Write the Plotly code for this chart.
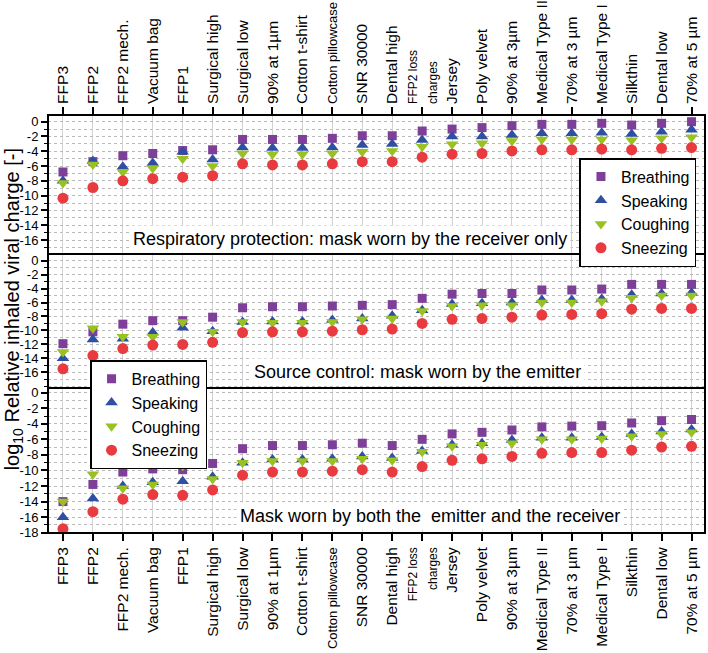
import plotly.graph_objects as go

# ---------------- data ----------------
categories = ["FFP3", "FFP2", "FFP2 mech.", "Vacuum bag", "FFP1", "Surgical high",
              "Surgical low", "90% at 1µm", "Cotton t-shirt", "Cotton pillowcase",
              "SNR 30000", "Dental high", "FFP2 loss charges", "Jersey", "Poly velvet",
              "90% at 3µm", "Medical Type II", "70% at 3 µm", "Medical Type I",
              "Silkthin", "Dental low", "70% at 5 µm"]

tick_labels = ["FFP3", "FFP2", "FFP2 mech.", "Vacuum bag", "FFP1", "Surgical high",
               "Surgical low", "90% at 1µm", "Cotton t-shirt",
               "<span style='font-size:13px'>Cotton pillowcase</span>",
               "SNR 30000", "Dental high",
               "<span style='font-size:12px'>FFP2 loss<br>charges</span>",
               "Jersey", "Poly velvet", "90% at 3µm", "Medical Type II", "70% at 3 µm",
               "Medical Type I", "Silkthin", "Dental low", "70% at 5 µm"]

series_names = ["Breathing", "Speaking", "Coughing", "Sneezing"]

# Panel 1: mask worn by the receiver only
receiver_breathing = [-6.8, -5.4, -4.6, -4.3, -3.9, -3.8, -2.4, -2.4, -2.4, -2.25, -1.9,
                      -1.9, -1.26, -1.0, -0.8, -0.54, -0.36, -0.36, -0.22, -0.45, -0.22, 0.0]
receiver_speaking = [-8.0, -5.3, -6.1, -5.6, -4.05, -5.1, -3.5, -3.55, -3.55, -3.5, -3.15,
                     -3.0, -2.47, -2.0, -2.0, -1.8, -1.57, -1.57, -1.5, -1.66, -1.35, -1.1]
receiver_coughing = [-8.3, -5.8, -6.8, -6.3, -5.0, -6.0, -4.3, -4.4, -4.4, -4.3, -4.05,
                     -3.96, -3.4, -3.05, -2.9, -2.6, -2.4, -2.4, -2.4, -2.5, -2.25, -2.1]
receiver_sneezing = [-10.35, -8.9, -8.0, -7.7, -7.5, -7.3, -5.7, -5.85, -5.85, -5.7, -5.4,
                     -5.4, -4.8, -4.4, -4.3, -3.96, -3.8, -3.8, -3.7, -3.8, -3.6, -3.5]

# Panel 2: source control, mask worn by the emitter
emitter_breathing = [-11.9, -10.2, -9.1, -8.6, -8.6, -8.1, -6.75, -6.6, -6.6, -6.5, -6.4,
                     -6.3, -5.4, -4.8, -4.7, -4.7, -4.2, -4.2, -4.07, -3.4, -3.4, -3.4]
emitter_speaking = [-14.0, -11.3, -11.2, -10.3, -9.6, -10.1, -8.8, -8.7, -8.7, -8.5, -8.3,
                    -7.9, -7.1, -6.2, -6.1, -6.0, -5.65, -5.65, -5.5, -4.9, -4.7, -4.6]
emitter_coughing = [-13.1, -9.7, -10.9, -10.9, -8.8, -10.2, -8.8, -8.9, -8.9, -8.8, -8.4,
                    -8.3, -7.2, -6.5, -6.4, -6.4, -6.0, -6.0, -5.8, -5.3, -5.0, -5.0]
emitter_sneezing = [-15.5, -13.6, -12.6, -12.1, -12.0, -11.7, -10.3, -10.2, -10.2, -10.1, -9.9,
                    -9.8, -9.0, -8.4, -8.3, -8.1, -7.8, -7.7, -7.6, -6.95, -6.85, -6.85]

# Panel 3: mask worn by both
both_breathing = [-14.0, -11.8, -10.2, -9.8, -9.9, -9.1, -7.2, -6.8, -6.8, -6.7, -6.5,
                  -6.8, -6.0, -5.3, -5.1, -4.8, -4.4, -4.3, -4.25, -3.9, -3.6, -3.45]
both_speaking = [-16.0, -13.6, -12.0, -11.5, -11.4, -10.8, -9.0, -8.6, -8.6, -8.5, -8.2,
                 -8.4, -7.5, -6.7, -6.5, -6.1, -5.8, -5.8, -5.7, -5.3, -5.0, -4.75]
both_coughing = [-14.0, -10.5, -12.3, -11.8, -9.4, -11.1, -9.0, -8.8, -8.8, -8.8, -8.5,
                 -8.7, -7.6, -6.9, -6.7, -6.5, -6.0, -6.0, -5.9, -5.6, -5.3, -5.1]
both_sneezing = [-17.5, -15.3, -13.7, -13.1, -13.2, -12.5, -10.6, -10.2, -10.2, -10.1, -9.9,
                 -10.2, -9.5, -8.7, -8.5, -8.2, -7.8, -7.7, -7.7, -7.4, -7.0, -6.9]

y_ticks_16 = [0, -2, -4, -6, -8, -10, -12, -14, -16]
y_ticks_18 = [0, -2, -4, -6, -8, -10, -12, -14, -16, -18]

panel_titles = ["Respiratory protection: mask worn by the receiver only",
                "Source control: mask worn by the emitter",
                "Mask worn by both the  emitter and the receiver"]

# ---------------- style ----------------
FONT = "Arial, Liberation Sans, sans-serif"
colors = ["#7E3F98", "#2E4FA2", "#98C221", "#E83A3F"]
symbols = ["square", "triangle-up", "triangle-down", "circle"]
sizes = [9, 11, 11, 11]

panels = [
    ([receiver_breathing, receiver_speaking, receiver_coughing, receiver_sneezing], "x2", "y", "legend"),
    ([emitter_breathing, emitter_speaking, emitter_coughing, emitter_sneezing], "x", "y2", "legend2"),
    ([both_breathing, both_speaking, both_coughing, both_sneezing], "x", "y3", None),
]

fig = go.Figure()
for series, xa, ya, leg in panels:
    for name, vals, c, s, sz in zip(series_names, series, colors, symbols, sizes):
        kw = dict(showlegend=leg is not None)
        if leg:
            kw["legend"] = leg
        fig.add_trace(go.Scatter(
            x=categories, y=vals, mode="markers", name=name,
            xaxis=xa, yaxis=ya,
            marker=dict(symbol=s, size=sz, color=c, line=dict(width=0)),
            **kw))

GRID = "#b9b9b9"
VGRID = "#d2d2d2"

xcommon = dict(
    type="category", categoryorder="array", categoryarray=categories,
    range=[-0.5, 21.45], domain=[0, 1], automargin=False,
    tickmode="array", tickvals=categories, ticktext=tick_labels,
    tickangle=-90, ticks="outside", ticklen=7, tickwidth=1.5, tickcolor="black",
    tickfont=dict(family=FONT, size=15.5, color="black"),
    showgrid=True, gridcolor=VGRID, gridwidth=1, showline=False, zeroline=False,
)

def ycommon(domain, rng, ticks, anchor):
    return dict(
        domain=domain, range=rng, anchor=anchor, automargin=False,
        tickmode="array", tickvals=ticks, ticktext=[str(t) for t in ticks],
        ticks="outside", ticklen=6, tickwidth=1.5, tickcolor="black",
        tickfont=dict(family=FONT, size=13, color="black"),
        showgrid=True, gridcolor=GRID, griddash="dot", gridwidth=1,
        minor=dict(tickmode="linear", tick0=0, dtick=1, ticks="outside", ticklen=3,
                   tickwidth=1.2, tickcolor="black", showgrid=True,
                   gridcolor=GRID, griddash="dot", gridwidth=1),
        zeroline=False, showline=False,
    )

d1, d2 = 0.3469, 0.6675

legend_style = dict(bgcolor="white", bordercolor="black", borderwidth=1.5,
                    font=dict(family=FONT, size=16, color="black"),
                    yanchor="top", tracegroupgap=0, itemwidth=30)

fig.update_layout(
    template="none",
    width=708, height=653,
    margin=dict(l=48, r=3, t=115, b=120, autoexpand=False),
    paper_bgcolor="white", plot_bgcolor="white",
    font=dict(family=FONT, color="black"),
    xaxis=dict(anchor="y3", side="bottom", **xcommon),
    xaxis2=dict(anchor="y", side="top", **xcommon),
    yaxis=ycommon([d2, 1.0], [-17.89, 0.906], y_ticks_16, "x2"),
    yaxis2=ycommon([d1, d2], [-18.25, 0.96], y_ticks_16, "x"),
    yaxis3=ycommon([0, d1], [-18.04, 0.6], y_ticks_18, "x"),
    legend=dict(x=0.987, y=0.897, xanchor="right", **legend_style),
    legend2=dict(x=0.064, y=0.413, xanchor="left", **legend_style),
    showlegend=True,
)

# panel frames
for lo, hi in [(d2, 1.0), (d1, d2), (0, d1)]:
    fig.add_shape(type="rect", xref="paper", yref="paper", x0=0, x1=1, y0=lo, y1=hi,
                  line=dict(color="black", width=2), fillcolor="rgba(0,0,0,0)", layer="above")

# panel titles
for text, (x, y) in zip(panel_titles, [(0.46, 0.703), (0.562, 0.386), (0.581, 0.041)]):
    fig.add_annotation(text=text, xref="paper", yref="paper", x=x, y=y,
                       xanchor="center", yanchor="middle", showarrow=False,
                       bgcolor="white", borderpad=3,
                       font=dict(family=FONT, size=18, color="black"))

# y axis title
fig.add_annotation(text="log<sub>10</sub> Relative inhaled viral charge [-]",
                   xref="paper", yref="paper", x=0, y=0.535, xshift=-35,
                   xanchor="center", yanchor="middle", textangle=-90, showarrow=False,
                   font=dict(family=FONT, size=20, color="black"))

# remove the default 8px page margin so the figure fills the window exactly
fig.write_html("out.html", config={"displayModeBar": False},
               post_script="document.body.style.margin='0px';")
